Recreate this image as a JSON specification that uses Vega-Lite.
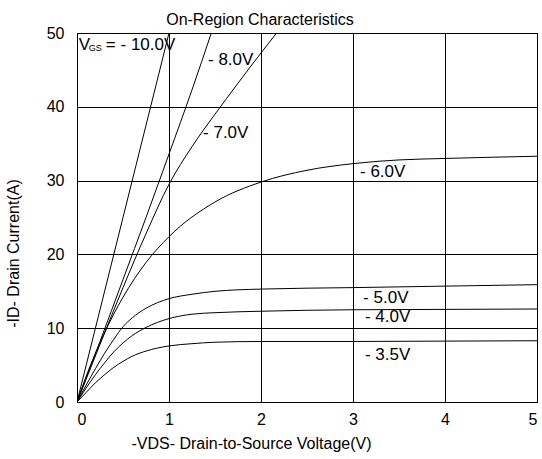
{
  "$schema": "https://vega.github.io/schema/vega-lite/v6.json",
  "width": 460,
  "height": 369,
  "autosize": {"type": "none"},
  "padding": {"left": 77, "top": 33, "right": 5, "bottom": 57},
  "config": {
    "font": "Liberation Sans",
    "view": {"stroke": "#000", "strokeWidth": 1},
    "axis": {
      "grid": true, "gridColor": "#000", "gridOpacity": 1, "gridWidth": 1,
      "domain": false, "ticks": false,
      "labelFont": "Liberation Sans", "labelFontSize": 16, "labelColor": "#000",
      "titleFont": "Liberation Sans", "titleFontSize": 16, "titleFontWeight": "normal", "titleColor": "#000"
    }
  },
  "title": {
    "text": "On-Region Characteristics",
    "font": "Liberation Sans", "fontSize": 16, "fontWeight": "normal", "color": "#000",
    "anchor": "middle", "frame": "group", "dx": -47, "dy": 26, "baseline": "bottom", "offset": 7
  },
  "datasets": {
    "curves": [
      {"vgs": "-10.0V", "vds": 0, "id": 0},
      {"vgs": "-10.0V", "vds": 0.5, "id": 25},
      {"vgs": "-10.0V", "vds": 1.0, "id": 50},
      {"vgs": "-8.0V", "vds": 0, "id": 0},
      {"vgs": "-8.0V", "vds": 0.25, "id": 8.2},
      {"vgs": "-8.0V", "vds": 0.5, "id": 16.6},
      {"vgs": "-8.0V", "vds": 0.75, "id": 25.0},
      {"vgs": "-8.0V", "vds": 1.0, "id": 33.6},
      {"vgs": "-8.0V", "vds": 1.25, "id": 42.3},
      {"vgs": "-8.0V", "vds": 1.46, "id": 50},
      {"vgs": "-7.0V", "vds": 0, "id": 0},
      {"vgs": "-7.0V", "vds": 0.25, "id": 7.8},
      {"vgs": "-7.0V", "vds": 0.5, "id": 15.5},
      {"vgs": "-7.0V", "vds": 0.75, "id": 22.8},
      {"vgs": "-7.0V", "vds": 1.0, "id": 29.5},
      {"vgs": "-7.0V", "vds": 1.25, "id": 34.6},
      {"vgs": "-7.0V", "vds": 1.5, "id": 39.0},
      {"vgs": "-7.0V", "vds": 1.75, "id": 43.2},
      {"vgs": "-7.0V", "vds": 2.0, "id": 47.3},
      {"vgs": "-7.0V", "vds": 2.17, "id": 50},
      {"vgs": "-6.0V", "vds": 0, "id": 0},
      {"vgs": "-6.0V", "vds": 0.1, "id": 3.5},
      {"vgs": "-6.0V", "vds": 0.2, "id": 6.6},
      {"vgs": "-6.0V", "vds": 0.3, "id": 9.4},
      {"vgs": "-6.0V", "vds": 0.5, "id": 14.2},
      {"vgs": "-6.0V", "vds": 0.75, "id": 18.9},
      {"vgs": "-6.0V", "vds": 1.0, "id": 22.4},
      {"vgs": "-6.0V", "vds": 1.5, "id": 27.1},
      {"vgs": "-6.0V", "vds": 2.0, "id": 29.8},
      {"vgs": "-6.0V", "vds": 2.5, "id": 31.4},
      {"vgs": "-6.0V", "vds": 3.0, "id": 32.3},
      {"vgs": "-6.0V", "vds": 3.5, "id": 32.8},
      {"vgs": "-6.0V", "vds": 4.0, "id": 33.0},
      {"vgs": "-6.0V", "vds": 5.0, "id": 33.3},
      {"vgs": "-5.0V", "vds": 0, "id": 0},
      {"vgs": "-5.0V", "vds": 0.1, "id": 2.3},
      {"vgs": "-5.0V", "vds": 0.2, "id": 4.5},
      {"vgs": "-5.0V", "vds": 0.3, "id": 6.6},
      {"vgs": "-5.0V", "vds": 0.4, "id": 8.5},
      {"vgs": "-5.0V", "vds": 0.5, "id": 10.2},
      {"vgs": "-5.0V", "vds": 0.6, "id": 11.4},
      {"vgs": "-5.0V", "vds": 0.75, "id": 12.7},
      {"vgs": "-5.0V", "vds": 1.0, "id": 14.0},
      {"vgs": "-5.0V", "vds": 1.25, "id": 14.6},
      {"vgs": "-5.0V", "vds": 1.5, "id": 15.0},
      {"vgs": "-5.0V", "vds": 2.0, "id": 15.3},
      {"vgs": "-5.0V", "vds": 3.0, "id": 15.5},
      {"vgs": "-5.0V", "vds": 4.0, "id": 15.7},
      {"vgs": "-5.0V", "vds": 5.0, "id": 15.9},
      {"vgs": "-4.0V", "vds": 0, "id": 0},
      {"vgs": "-4.0V", "vds": 0.1, "id": 1.9},
      {"vgs": "-4.0V", "vds": 0.2, "id": 3.7},
      {"vgs": "-4.0V", "vds": 0.3, "id": 5.3},
      {"vgs": "-4.0V", "vds": 0.4, "id": 6.8},
      {"vgs": "-4.0V", "vds": 0.5, "id": 8.0},
      {"vgs": "-4.0V", "vds": 0.6, "id": 9.0},
      {"vgs": "-4.0V", "vds": 0.75, "id": 10.1},
      {"vgs": "-4.0V", "vds": 1.0, "id": 11.3},
      {"vgs": "-4.0V", "vds": 1.25, "id": 11.9},
      {"vgs": "-4.0V", "vds": 1.5, "id": 12.1},
      {"vgs": "-4.0V", "vds": 2.0, "id": 12.3},
      {"vgs": "-4.0V", "vds": 3.0, "id": 12.5},
      {"vgs": "-4.0V", "vds": 4.0, "id": 12.55},
      {"vgs": "-4.0V", "vds": 5.0, "id": 12.6},
      {"vgs": "-3.5V", "vds": 0, "id": 0},
      {"vgs": "-3.5V", "vds": 0.1, "id": 1.3},
      {"vgs": "-3.5V", "vds": 0.2, "id": 2.6},
      {"vgs": "-3.5V", "vds": 0.3, "id": 3.7},
      {"vgs": "-3.5V", "vds": 0.4, "id": 4.7},
      {"vgs": "-3.5V", "vds": 0.5, "id": 5.5},
      {"vgs": "-3.5V", "vds": 0.6, "id": 6.2},
      {"vgs": "-3.5V", "vds": 0.75, "id": 6.9},
      {"vgs": "-3.5V", "vds": 1.0, "id": 7.6},
      {"vgs": "-3.5V", "vds": 1.25, "id": 7.9},
      {"vgs": "-3.5V", "vds": 1.5, "id": 8.1},
      {"vgs": "-3.5V", "vds": 2.0, "id": 8.2},
      {"vgs": "-3.5V", "vds": 3.0, "id": 8.2},
      {"vgs": "-3.5V", "vds": 4.0, "id": 8.25},
      {"vgs": "-3.5V", "vds": 5.0, "id": 8.3}
    ],
    "labels": [
      {"label": "V", "vds": 0.02, "id": 48.4},
      {"label": "- 8.0V", "vds": 1.424, "id": 46.3},
      {"label": "- 7.0V", "vds": 1.37, "id": 36.4},
      {"label": "- 6.0V", "vds": 3.076, "id": 31.2},
      {"label": "- 5.0V", "vds": 3.11, "id": 14.05},
      {"label": "- 4.0V", "vds": 3.13, "id": 11.56},
      {"label": "- 3.5V", "vds": 3.13, "id": 6.37}
    ],
    "subs": [
      {"label": "GS", "vds": 0.02, "id": 48.4}
    ],
    "tails": [
      {"label": "= - 10.0V", "vds": 0.02, "id": 48.4}
    ]
  },
  "encoding": {
    "x": {
      "field": "vds", "type": "quantitative",
      "scale": {"domain": [0, 5], "nice": false, "zero": false},
      "axis": {
        "values": [0, 1, 2, 3, 4, 5], "labelPadding": 9,
        "title": "-VDS- Drain-to-Source Voltage(V)",
        "titleX": 174, "titleY": 41, "titleBaseline": "middle", "titleAlign": "center"
      }
    },
    "y": {
      "field": "id", "type": "quantitative",
      "scale": {"domain": [0, 50], "nice": false},
      "axis": {
        "values": [0, 10, 20, 30, 40, 50], "labelPadding": 13,
        "title": "-ID- Drain Current(A)",
        "titleX": -64, "titleY": 220, "titleBaseline": "middle", "titleAlign": "center", "titleAngle": -90
      }
    }
  },
  "layer": [
    {
      "data": {"name": "curves"},
      "mark": {"type": "line", "color": "#000", "strokeWidth": 1, "interpolate": "monotone", "clip": true},
      "encoding": {"detail": {"field": "vgs", "type": "nominal"}}
    },
    {
      "data": {"name": "labels"},
      "mark": {"type": "text", "align": "left", "baseline": "middle", "fontSize": 17, "color": "#000"},
      "encoding": {"text": {"field": "label", "type": "nominal"}}
    },
    {
      "data": {"name": "subs"},
      "mark": {"type": "text", "align": "left", "baseline": "middle", "fontSize": 9, "dx": 10, "dy": 3, "color": "#000"},
      "encoding": {"text": {"field": "label", "type": "nominal"}}
    },
    {
      "data": {"name": "tails"},
      "mark": {"type": "text", "align": "left", "baseline": "middle", "fontSize": 17, "dx": 27, "color": "#000"},
      "encoding": {"text": {"field": "label", "type": "nominal"}}
    }
  ]
}
